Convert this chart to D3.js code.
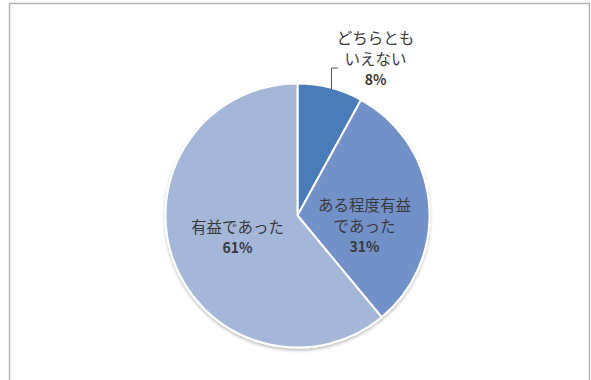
<!DOCTYPE html>
<html><head><meta charset="utf-8">
<script src="https://cdn.jsdelivr.net/npm/d3@7"></script>
<style>
html,body{margin:0;padding:0;background:#fff;}
svg{display:block;}
text{font-family:"Noto Sans CJK JP","Noto Sans",sans-serif;fill:#3a3a3a;}
</style></head>
<body>
<script>
// Survey answers and their shares (%)
const categories = ["どちらとも\nいえない", "ある程度有益\nであった", "有益であった"];
const values = [8, 31, 61];
const colors = ["#4a7cb9", "#7391c9", "#a4b7d9"];

const W = 591, H = 380;
const cx = 297.5, cy = 215.5, R = 132;

const svg = d3.select("body").append("svg").attr("width", W).attr("height", H);

// chart frame
svg.append("rect").attr("x", 9.5).attr("y", 3.5).attr("width", 580).attr("height", 390)
  .attr("fill", "#fff").attr("stroke", "#b3b3b3").attr("stroke-width", 1.5);

const defs = svg.append("defs");
const f = defs.append("filter").attr("id", "sh").attr("x", "-20%").attr("y", "-20%").attr("width", "140%").attr("height", "140%");
f.append("feDropShadow").attr("dx", 0).attr("dy", 2).attr("stdDeviation", 1.5)
  .attr("flood-color", "#000").attr("flood-opacity", 0.25);

const data = categories.map((c, i) => ({ cat: c, v: values[i], col: colors[i] }));
const pie = d3.pie().value(d => d.v).sort(null);
const arcs = pie(data);
const arc = d3.arc().innerRadius(0).outerRadius(R);

const g = svg.append("g").attr("transform", `translate(${cx},${cy})`);
g.append("g").attr("filter", "url(#sh)")
  .selectAll("path").data(arcs).join("path")
  .attr("d", arc).attr("fill", d => d.data.col)
  .attr("stroke", "#fff").attr("stroke-width", 2).attr("stroke-linejoin", "round");

// label anchor points (relative to centre)
const labelPos = [[78, -177], [67, -10], [-60, 12]];
const lineH = 21;

arcs.forEach((a, i) => {
  const lines = a.data.cat.split("\n").concat([a.data.v + "%"]);
  const t = g.append("text").attr("text-anchor", "middle").attr("font-size", 15.5);
  lines.forEach((s, j) => {
    t.append("tspan").attr("x", labelPos[i][0]).attr("y", labelPos[i][1] + j * lineH)
      .attr("dy", "0.35em")
      .attr("font-weight", j === lines.length - 1 ? "bold" : "normal")
      .attr("font-size", j === lines.length - 1 ? 14 : 15.5)
      .text(s);
  });
});

// leader line for the small slice, dropping onto the rim
const lx = 34;
const ly = -Math.sqrt(R * R - lx * lx) + 1;
g.append("path")
  .attr("d", d3.line()([[40.5, -147.5], [lx, -147.5], [lx, ly]]))
  .attr("fill", "none").attr("stroke", "#555").attr("stroke-width", 1);
</script>
</body></html>
